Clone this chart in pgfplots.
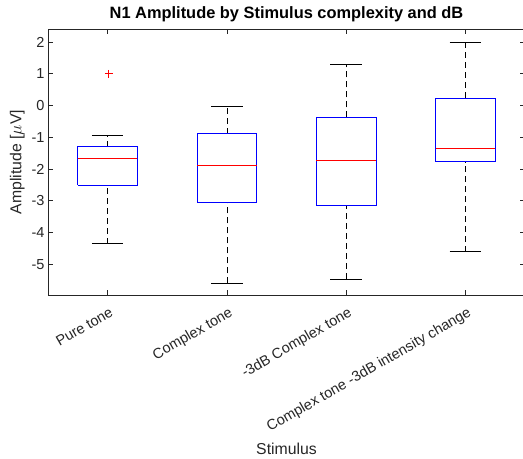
\documentclass[border=0pt]{standalone}
\usepackage{fontspec}
\setmainfont{Liberation Sans}
\usepackage{pgfplots}
\pgfplotsset{compat=1.18}
\usepgfplotslibrary{statistics}
\usetikzlibrary{calc}
\definecolor{axgray}{RGB}{38,38,38}
\definecolor{mblue}{RGB}{0,0,255}
\definecolor{mred}{RGB}{255,0,0}
\begin{document}
\begin{tikzpicture}
\begin{axis}[
  scale only axis,
  width=477bp, height=266bp,
  xmin=0.5, xmax=4.5,
  ymin=-5.97, ymax=2.41,
  xtick={1,2,3,4},
  xticklabels={Pure tone, Complex tone, -3dB Complex tone, Complex tone -3dB intensity change},
  ytick={-5,-4,-3,-2,-1,0,1,2},
  yticklabels={-5,-4,-3,-2,-1,0,1,2},
  tick align=inside,
  major tick length=5bp,
  axis line style={axgray, line width=0.6bp},
  every tick/.append style={axgray, line width=0.6bp},
  tick label style={text=axgray, font=\fontsize{14.5bp}{17bp}\selectfont},
  xticklabel style={rotate=30, anchor=north east, xshift=-1bp, yshift=-7bp},
  title={N1 Amplitude by Stimulus complexity and dB},
  title style={font=\bfseries\fontsize{16.4bp}{19bp}\selectfont, yshift=-2bp},
  xlabel={Stimulus},
  ylabel={Amplitude [$\mu$V]},
  label style={text=axgray, font=\fontsize{15.8bp}{19bp}\selectfont},
  mywhisk/.style={black, line width=0.7bp, dash pattern=on 6bp off 4bp},
  mycap/.style={black, line width=0.7bp},
  mybox/.style={mblue, line width=0.7bp},
  mymed/.style={mred, line width=0.7bp},
]
% outlier of Pure tone (box parts hidden; drawn by hand below)
\addplot[mblue, mark=+, mark size=4bp, mark options={draw=mred, line width=0.8bp},
  boxplot/every box/.style={draw=none},
  boxplot/every median/.style={draw=none},
  boxplot/every whisker/.style={draw=none},
  boxplot prepared={draw position=1, lower whisker=-4.35, lower quartile=-2.51,
    median=-1.68, upper quartile=-1.30, upper whisker=-0.95}]
  table[row sep=\\, y index=0] {1.01\\};
% ---- Pure tone (x=1): lw -4.35, q1 -2.51, med -1.68, q3 -1.30, uw -0.95
\addplot[mywhisk] coordinates {(1,-4.35) (1,-2.51)};
\addplot[mywhisk] coordinates {(1,-1.30) (1,-0.95)};
\addplot[mybox] coordinates {(0.75,-2.51) (1.25,-2.51) (1.25,-1.30) (0.75,-1.30) (0.75,-2.51)};
\addplot[mymed] coordinates {(0.75,-1.68) (1.25,-1.68)};
\addplot[mycap] coordinates {(0.8675,-4.35) (1.1325,-4.35)};
\addplot[mycap] coordinates {(0.8675,-0.95) (1.1325,-0.95)};
% ---- Complex tone (x=2): lw -5.60, q1 -3.04, med -1.90, q3 -0.89, uw -0.04
\addplot[mywhisk] coordinates {(2,-5.60) (2,-3.04)};
\addplot[mywhisk] coordinates {(2,-0.89) (2,-0.04)};
\addplot[mybox] coordinates {(1.75,-3.04) (2.25,-3.04) (2.25,-0.89) (1.75,-0.89) (1.75,-3.04)};
\addplot[mymed] coordinates {(1.75,-1.90) (2.25,-1.90)};
\addplot[mycap] coordinates {(1.8675,-5.60) (2.1325,-5.60)};
\addplot[mycap] coordinates {(1.8675,-0.04) (2.1325,-0.04)};
% ---- -3dB Complex tone (x=3): lw -5.47, q1 -3.15, med -1.74, q3 -0.37, uw 1.31
\addplot[mywhisk] coordinates {(3,-5.47) (3,-3.15)};
\addplot[mywhisk] coordinates {(3,-0.37) (3,1.31)};
\addplot[mybox] coordinates {(2.75,-3.15) (3.25,-3.15) (3.25,-0.37) (2.75,-0.37) (2.75,-3.15)};
\addplot[mymed] coordinates {(2.75,-1.74) (3.25,-1.74)};
\addplot[mycap] coordinates {(2.8675,-5.47) (3.1325,-5.47)};
\addplot[mycap] coordinates {(2.8675,1.31) (3.1325,1.31)};
% ---- Complex tone -3dB intensity change (x=4): lw -4.61, q1 -1.77, med -1.36, q3 0.24, uw 1.99
\addplot[mywhisk] coordinates {(4,-4.61) (4,-1.77)};
\addplot[mywhisk] coordinates {(4,0.24) (4,1.99)};
\addplot[mybox] coordinates {(3.75,-1.77) (4.25,-1.77) (4.25,0.24) (3.75,0.24) (3.75,-1.77)};
\addplot[mymed] coordinates {(3.75,-1.36) (4.25,-1.36)};
\addplot[mycap] coordinates {(3.8675,-4.61) (4.1325,-4.61)};
\addplot[mycap] coordinates {(3.8675,1.99) (4.1325,1.99)};
\end{axis}
\pgfresetboundingbox
\useasboundingbox ($(current axis.south west)+(-48bp,-163bp)$) rectangle ($(current axis.north east)+(-2bp,29bp)$);
\end{tikzpicture}
\end{document}
